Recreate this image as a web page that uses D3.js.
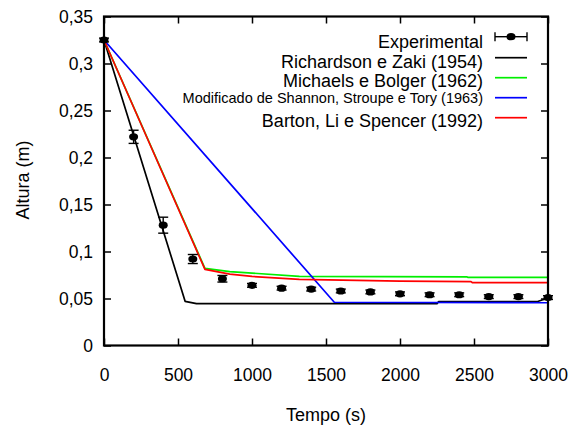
<!DOCTYPE html>
<html>
<head>
<meta charset="utf-8">
<script src="https://cdn.jsdelivr.net/npm/d3@7"></script>
<style>
  html, body { margin: 0; padding: 0; background: #fff; }
  svg { display: block; font-family: "Liberation Sans", Arial, Helvetica, sans-serif; }
</style>
</head>
<body>
<svg id="chart" width="576" height="427"></svg>
<script>
// Experimental sedimentation data: time (s), height (m), error (m)
const expTime   = [0, 200, 400, 600, 800, 1000, 1200, 1400, 1600, 1800, 2000, 2200, 2400, 2600, 2800, 3000];
const expHeight = [0.325, 0.222, 0.128, 0.092, 0.071, 0.064, 0.061, 0.060, 0.058, 0.057, 0.055, 0.054, 0.054, 0.052, 0.052, 0.051];
const expError  = [0.002, 0.007, 0.0085, 0.0048, 0.0035, 0.002, 0.002, 0.002, 0.002, 0.002, 0.002, 0.002, 0.002, 0.002, 0.002, 0.002];

// Model curves
const rzTime   = [0, 548, 625, 1500, 2250, 2260, 2925, 3000];
const rzHeight = [0.325, 0.047, 0.0445, 0.0445, 0.0445, 0.0466, 0.0466, 0.0505];

const mbTime   = [0, 682, 850, 1000, 1320, 2450, 2460, 3000];
const mbHeight = [0.325, 0.082, 0.0785, 0.077, 0.0735, 0.0731, 0.0725, 0.0725];

const sstTime   = [0, 1556, 3000];
const sstHeight = [0.325, 0.046, 0.0455];

const blsTime   = [0, 682, 850, 1000, 1320, 2000, 2480, 2490, 3000];
const blsHeight = [0.325, 0.081, 0.076, 0.0735, 0.0703, 0.0685, 0.0679, 0.0668, 0.0668];

const xTicks = [0, 500, 1000, 1500, 2000, 2500, 3000];
const yTicks = [0, 0.05, 0.1, 0.15, 0.2, 0.25, 0.3, 0.35];

const legendLabels = [
  "Experimental",
  "Richardson e Zaki (1954)",
  "Michaels e Bolger (1962)",
  "Modificado de Shannon, Stroupe e Tory (1963)",
  "Barton, Li e Spencer (1992)"
];

const svg = d3.select("#chart");
const pLeft = 104, pRight = 548, pTop = 16.5, pBottom = 345.5;

const x = d3.scaleLinear().domain([0, 3000]).range([pLeft, pRight]);
const y = d3.scaleLinear().domain([0, 0.35]).range([pBottom, pTop]);

const fmt = d => d === 0 ? "0" : String(+d.toFixed(2)).replace(".", ",");

// Inner ticks on all four sides
const tickLen = 7;
const axB = d3.axisBottom(x).tickValues(xTicks).tickSize(-tickLen).tickPadding(23).tickFormat(d => d);
const axT = d3.axisTop(x).tickValues(xTicks).tickSize(-tickLen).tickFormat("");
const axL = d3.axisLeft(y).tickValues(yTicks).tickSize(-tickLen).tickPadding(11).tickFormat(fmt);
const axR = d3.axisRight(y).tickValues(yTicks).tickSize(-tickLen).tickFormat("");

function styleAxis(g) {
  g.select(".domain").remove();
  g.selectAll(".tick line").attr("stroke", "#000").attr("stroke-width", 1.5);
  g.selectAll(".tick text").attr("fill", "#000").attr("font-size", 17.5)
    .attr("font-family", "Liberation Sans, Arial, sans-serif");
}
svg.append("g").attr("transform", `translate(0,${pBottom})`).call(axB).call(styleAxis);
svg.append("g").attr("transform", `translate(0,${pTop})`).call(axT).call(styleAxis);
svg.append("g").attr("transform", `translate(${pLeft},0)`).call(axL).call(styleAxis);
svg.append("g").attr("transform", `translate(${pRight},0)`).call(axR).call(styleAxis);

// Model lines
const line = d3.line().x(d => x(d[0])).y(d => y(d[1]));
const models = [
  { t: rzTime,  h: rzHeight,  color: "#000000" },
  { t: mbTime,  h: mbHeight,  color: "#00ee00" },
  { t: sstTime, h: sstHeight, color: "#0000ff" },
  { t: blsTime, h: blsHeight, color: "#ff0000" }
];
models.forEach(m => {
  svg.append("path")
    .datum(d3.zip(m.t, m.h))
    .attr("d", line)
    .attr("fill", "none")
    .attr("stroke", m.color)
    .attr("stroke-width", 1.7)
    .attr("stroke-linejoin", "round");
});

// Experimental points with error bars
const exp = d3.zip(expTime, expHeight, expError);
const eg = svg.append("g");
exp.forEach(([t, h, e]) => {
  const cx = x(t), y1 = y(h + e), y2 = y(h - e);
  eg.append("line").attr("x1", cx).attr("x2", cx).attr("y1", y1).attr("y2", y2)
    .attr("stroke", "#000").attr("stroke-width", 1.4);
  [y1, y2].forEach(yy => eg.append("line").attr("x1", cx - 5).attr("x2", cx + 5)
    .attr("y1", yy).attr("y2", yy).attr("stroke", "#000").attr("stroke-width", 1.4));
  eg.append("ellipse").attr("cx", cx).attr("cy", y(h)).attr("rx", 4.5).attr("ry", 3.6).attr("fill", "#000");
});

// Frame
svg.append("rect").attr("x", pLeft).attr("y", pTop).attr("width", pRight - pLeft).attr("height", pBottom - pTop)
  .attr("fill", "none").attr("stroke", "#000").attr("stroke-width", 2.2);

// Legend
const legColors = [null, "#000000", "#00ee00", "#0000ff", "#ff0000"];
const legLineY = [36.7, 57.7, 77.7, 97.7, 117.7];
const legTextY = [48.3, 67.7, 86.7, 103.3, 127.3];
const legSizes = [18, 18, 18, 14.5, 18];
const lx1 = 495, lx2 = 527, tx = 483;
legendLabels.forEach((lab, i) => {
  svg.append("text").attr("x", tx).attr("y", legTextY[i])
    .attr("text-anchor", "end").attr("font-size", legSizes[i]).attr("fill", "#000").text(lab);
  if (i === 0) {
    svg.append("line").attr("x1", lx1).attr("x2", lx2).attr("y1", legLineY[i]).attr("y2", legLineY[i])
      .attr("stroke", "#000").attr("stroke-width", 1.4);
    [lx1, lx2].forEach(xx => svg.append("line").attr("x1", xx).attr("x2", xx)
      .attr("y1", legLineY[i] - 4.5).attr("y2", legLineY[i] + 4.5).attr("stroke", "#000").attr("stroke-width", 1.4));
    svg.append("ellipse").attr("cx", (lx1 + lx2) / 2).attr("cy", legLineY[i]).attr("rx", 4.5).attr("ry", 3.6).attr("fill", "#000");
  } else {
    svg.append("line").attr("x1", lx1).attr("x2", lx2).attr("y1", legLineY[i]).attr("y2", legLineY[i])
      .attr("stroke", legColors[i]).attr("stroke-width", 1.7);
  }
});

// Axis titles
svg.append("text").attr("x", 326).attr("y", 421).attr("text-anchor", "middle")
  .attr("font-size", 18).attr("fill", "#000").text("Tempo (s)");
svg.append("text").attr("transform", `translate(29,180) rotate(-90)`)
  .attr("text-anchor", "middle").attr("font-size", 18).attr("fill", "#000").text("Altura (m)");
</script>
</body>
</html>
